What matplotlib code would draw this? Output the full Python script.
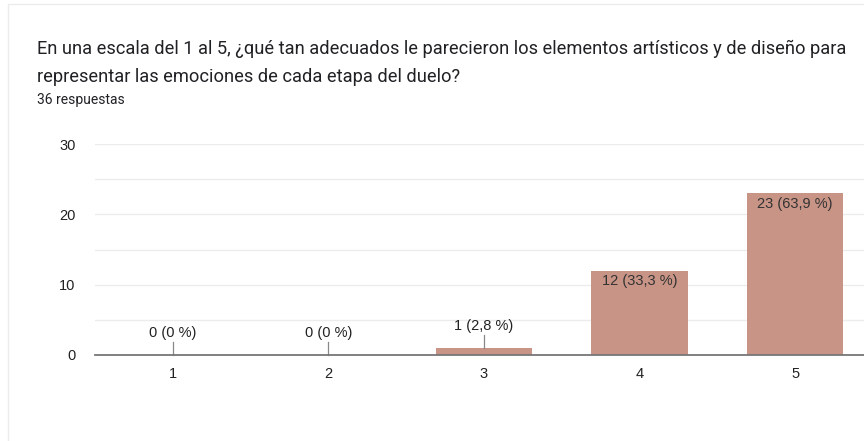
import matplotlib
matplotlib.use("Agg")
import matplotlib.pyplot as plt
from matplotlib.lines import Line2D

categories = ["1", "2", "3", "4", "5"]
counts = [0, 0, 1, 12, 23]
labels = ["0 (0 %)", "0 (0 %)", "1 (2,8 %)", "12 (33,3 %)", "23 (63,9 %)"]
yticks = [0, 10, 20, 30]

plt.rcParams['font.family'] = ['Roboto', 'DejaVu Sans']
NUMFONT = ['Liberation Sans', 'DejaVu Sans']

fig = plt.figure(figsize=(8.64, 4.41), dpi=100)
fig.patch.set_facecolor('white')

# card border (left and top, very faint)
fig.add_artist(Line2D([8/864, 8/864, 1.0], [0.0, 1-4/441, 1-4/441], transform=fig.transFigure,
                      color='#ececec', linewidth=1.0))

fig.text(37/864, 1-54/441, "En una escala del 1 al 5, ¿qué tan adecuados le parecieron los elementos artísticos y de diseño para",
         fontsize=13.15, color='#202124', va='baseline', ha='left')
fig.text(37/864, 1-82/441, "representar las emociones de cada etapa del duelo?",
         fontsize=13.15, color='#202124', va='baseline', ha='left')
fig.text(37/864, 1-104/441, "36 respuestas", fontsize=10, color='#202124', va='baseline', ha='left')

ax = fig.add_axes([95/864, 1-355/441, 778/864, (355-144)/441])
x = list(range(1, len(categories)+1))
ax.bar(x, counts, width=0.62, color='#c89486', zorder=2)
ax.set_xlim(0.5, 5.5)
ax.set_ylim(0, 30)
ax.set_yticks(yticks)
ax.set_yticks([5, 15, 25], minor=True)
ax.set_xticks(x)
ax.set_xticklabels(categories)
ax.grid(axis='y', which='both', color='#ececec', linewidth=1, zorder=0)
for s in ['top', 'right', 'left']:
    ax.spines[s].set_visible(False)
ax.spines['bottom'].set_color('#777777')
ax.spines['bottom'].set_linewidth(1.3)
ax.spines['bottom'].set_zorder(3)
ax.tick_params(axis='both', which='both', length=0, labelsize=10.5, colors='#222222')
ax.tick_params(axis='y', pad=14)
ax.tick_params(axis='x', pad=9)
for t in ax.get_xticklabels() + ax.get_yticklabels():
    t.set_fontfamily(NUMFONT)

for xi, c, lab in zip(x, counts, labels):
    if c < 5:
        ax.plot([xi, xi], [c, c + 1.8], color='#888888', linewidth=0.9, zorder=3, clip_on=False)
        ax.text(xi, c + 2.1, lab, ha='center', va='bottom', fontsize=10.5, color='#222222',
                family=NUMFONT)
    else:
        ax.text(xi, c - 0.5, lab, ha='center', va='top', fontsize=10.5, color='#333333',
                family=NUMFONT)

fig.savefig("out.png", dpi=100, facecolor='white')
